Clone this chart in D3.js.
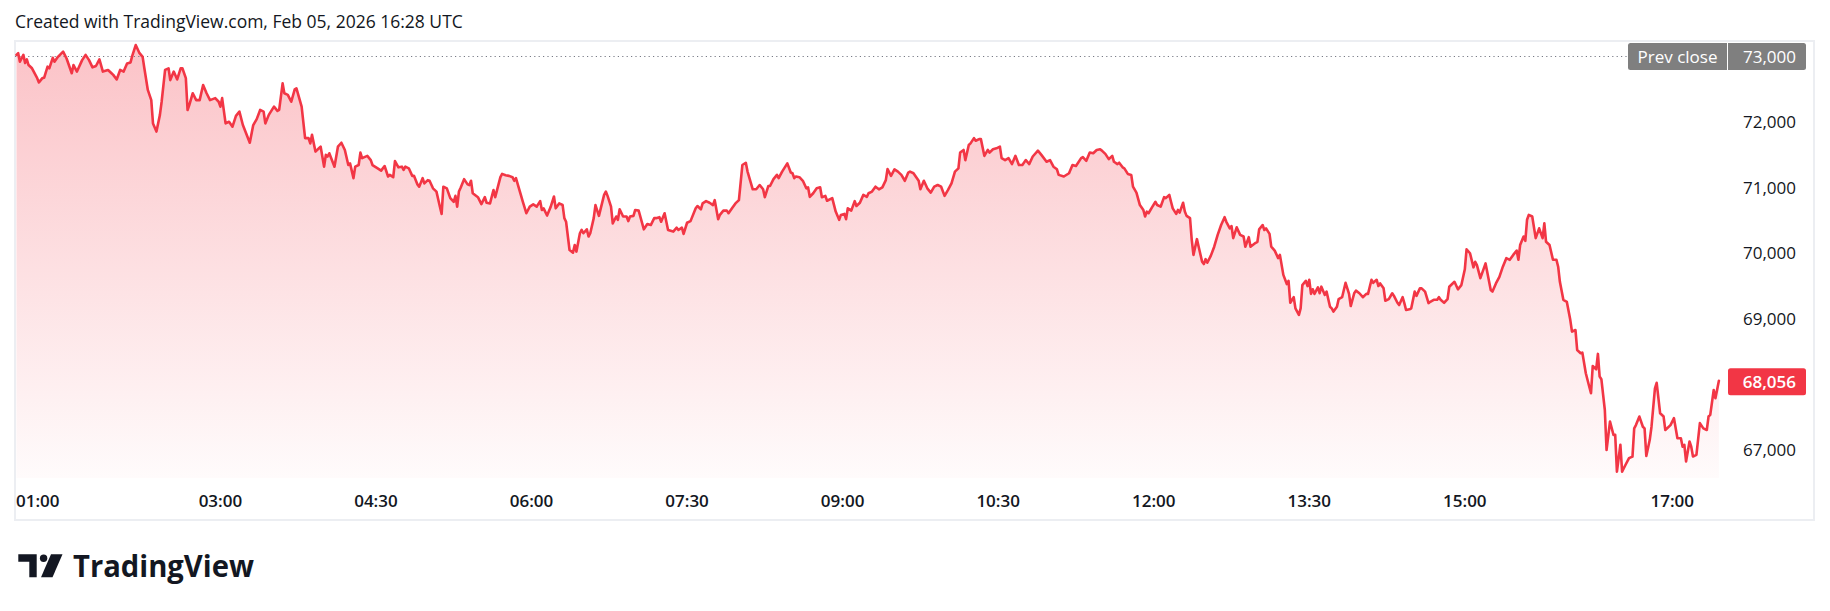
<!DOCTYPE html>
<html><head><meta charset="utf-8">
<script src="https://cdn.jsdelivr.net/npm/d3@7"></script>
<style>
html,body{margin:0;padding:0;background:#fff;}
svg{display:block;}
text{font-family:"Open Sans",sans-serif;}
</style></head><body>
<svg id="c" width="1830" height="611"></svg>
<script>
// minutes since 00:00 (chart time zone), Feb 05 2026
const minuteOfDay = [
62,63,64,66,67,68,69,71,74,75,77,78,80,81,83,84,86,89,91,94,
95,97,100,102,104,106,108,110,112,115,117,118,120,122,124,126,128,129,131,133,
135,136,138,140,141,143,145,146,148,150,151,153,155,157,158,160,161,162,164,166,
168,170,172,174,177,179,180,181,183,185,187,189,191,193,197,199,201,203,205,206,
208,211,213,214,216,217,219,221,223,224,227,229,231,232,233,235,237,238,240,241,
242,243,246,248,250,252,254,255,257,258,260,261,262,265,267,268,271,273,275,277,
278,280,281,283,285,286,287,289,291,292,294,295,297,298,300,301,303,305,307,308,
309,311,313,315,316,317,318,319,321,323,324,325,326,329,331,333,334,336,338,339,
342,343,345,347,349,350,351,354,355,357,359,361,363,365,366,367,369,371,373,374,
376,378,379,380,382,384,385,386,388,389,390,392,393,394,396,397,399,402,403,404,
406,407,409,410,411,413,415,416,417,419,420,422,425,427,429,431,432,434,435,437,
439,442,444,445,447,448,450,452,455,456,458,459,461,463,465,466,468,469,471,473,
474,476,478,480,482,484,485,488,490,492,494,495,497,498,500,502,503,505,508,510,
511,512,513,515,517,519,520,521,523,525,527,528,530,531,534,536,538,539,541,542,
543,545,547,548,550,552,554,555,557,559,561,563,565,566,568,570,572,574,576,578,
579,581,584,585,587,589,591,593,595,597,599,601,603,605,607,608,610,611,613,614,
616,617,619,620,622,624,625,627,629,631,632,634,636,638,640,642,644,646,648,650,
653,655,658,660,662,664,665,668,671,673,675,678,679,681,683,685,687,689,690,692,
694,696,697,699,700,702,703,705,707,708,710,712,714,715,716,717,719,721,722,724,
726,727,729,730,731,733,734,735,737,738,739,741,742,743,745,746,748,749,750,751,
753,755,757,759,761,762,764,765,766,768,770,772,773,775,776,779,780,781,783,784,
785,787,788,790,792,793,795,797,798,799,801,802,804,805,806,808,809,810,811,812,
813,815,816,817,819,820,822,823,824,826,827,829,831,833,834,836,837,839,841,843,
844,846,847,849,850,851,853,854,856,858,859,861,862,864,865,866,868,869,871,872,
874,875,877,879,880,882,884,885,886,888,890,891,894,896,898,900,901,903,905,906,
907,909,912,915,916,918,920,922,924,926,928,930,931,932,934,935,936,937,939,941,
943,945,946,947,949,951,953,954,955,957,959,961,962,964,965,967,968,970,972,973,
974,976,977,978,979,981,982,984,986,987,988,990,991,993,995,997,998,999,1001,1003,
1004,1005,1007,1008,1010,1011,1013,1015,1016,1019,1021,1023,1025,1026,1027,1028,1030,1031,1032,1034,
1036,1038,1040,1041,1042,1044,1045,1047
];
const price = [
73025,73050,72920,73025,72900,72955,72870,72820,72670,72605,72670,72675,72845,72820,72980,72920,72995,73075,72970,72745,
72870,72770,72945,73025,72945,72835,72855,72955,72770,72795,72745,72720,72650,72795,72770,72895,72910,73010,73175,73060,
72995,72820,72490,72335,71980,71855,72110,72310,72795,72820,72640,72770,72650,72820,72820,72670,72185,72260,72440,72335,
72335,72565,72440,72335,72365,72310,72235,72365,71980,72005,71930,72095,72160,71955,71685,71955,72045,72185,72160,71980,
72110,72235,72170,72185,72590,72440,72415,72310,72500,72515,72235,71755,71755,71675,71805,71550,71600,71625,71320,71500,
71475,71525,71320,71625,71685,71575,71345,71370,71145,71320,71345,71535,71450,71485,71420,71345,71295,71260,71330,71170,
71195,71160,71405,71310,71320,71270,71320,71295,71180,71180,71050,71015,71145,71065,71115,71105,70990,70940,70710,70600,
71015,70990,70840,70785,70875,70710,70940,71000,71130,71050,71040,71105,70915,70855,70750,70855,70770,70760,70965,70855,
71160,71210,71190,71180,71160,71105,71145,70875,70785,70610,70710,70745,70710,70795,70660,70685,70575,70700,70865,70685,
70760,70735,70535,70480,70050,70010,70125,70025,70305,70355,70305,70365,70255,70305,70535,70735,70570,70890,70940,70875,
70710,70455,70560,70510,70670,70560,70560,70490,70560,70570,70660,70650,70365,70445,70430,70535,70535,70550,70480,70610,
70355,70330,70390,70355,70390,70295,70465,70490,70685,70720,70670,70760,70795,70770,70735,70810,70520,70585,70650,70650,
70610,70685,70760,70810,71345,71380,71245,70975,70975,71040,70975,70855,71025,71025,71130,71195,71145,71245,71370,71230,
71220,71145,71170,71160,71105,70990,71005,70860,70915,70990,71005,70855,70875,70800,70840,70635,70510,70585,70600,70520,
70685,70650,70795,70720,70770,70890,70860,70915,70940,71015,70975,71005,71115,71285,71180,71280,71245,71195,71105,71230,
71245,71220,71105,70975,71105,70990,70925,71015,71040,71015,70875,70965,71065,71245,71295,71535,71575,71420,71650,71675,
71755,71715,71740,71740,71485,71575,71535,71585,71600,71625,71450,71420,71450,71360,71485,71345,71345,71420,71360,71475,
71565,71500,71395,71420,71320,71280,71195,71170,71220,71345,71330,71450,71465,71410,71535,71525,71575,71585,71565,71515,
71435,71485,71395,71360,71380,71310,71295,71210,71195,71015,70925,70735,70660,70560,70635,70610,70700,70785,70735,70710,
70855,70840,70890,70785,70685,70600,70660,70620,70770,70635,70570,70535,70205,69975,70215,70100,69870,69835,69910,69855,
69960,70100,70280,70430,70550,70480,70380,70415,70230,70395,70280,70255,70100,70245,70100,70160,70175,70365,70430,70355,
70380,70295,70100,70040,69925,69975,69670,69530,69580,69245,69330,69160,69060,69160,69515,69580,69500,69595,69380,69450,
69380,69480,69390,69490,69365,69415,69185,69160,69110,69185,69300,69330,69550,69380,69195,69390,69430,69390,69330,69380,
69380,69595,69550,69595,69500,69540,69465,69275,69300,69390,69350,69245,69210,69330,69240,69135,69145,69160,69415,69350,
69465,69465,69415,69240,69260,69290,69290,69330,69290,69245,69300,69490,69565,69450,69515,69755,70060,70000,69785,69870,
69820,69620,69845,69440,69415,69540,69640,69795,69925,69900,69975,70040,69900,70125,70255,70190,70510,70585,70560,70230,
70380,70230,70455,70175,70125,69900,69900,69795,69565,69290,69260,68985,68805,68830,68525,68475,68485,68170,67965,67865,
68280,68230,68465,68120,68080,67610,67000,67435,67230,67230,66670,67080,66670,66775,66875,66900,67330,67380,67510,67355,
67330,66910,67155,67355,67940,68025,67560,67510,67305,67380,67485,67180,67180,67050,67080,66825,67130,67050,66900,66925,
67410,67330,67305,67510,67535,67915,67790,68056
];
const timeTickLabels = ["01:00","03:00","04:30","06:00","07:30","09:00","10:30","12:00","13:30","15:00","17:00"];
const priceTicks = [67000,68000,69000,70000,71000,72000,73000];
const prevClose = 73000;
const prevCloseLabel = "Prev close";
const lastPrice = 68056;
const titleText = "Created with TradingView.com, Feb 05, 2026 16:28 UTC";
const brandText = "TradingView";

const RED = "#F23645";
const svg = d3.select("#c");
const frame = {x0: 15, y0: 41, x1: 1814, y1: 520};
const paneBottom = 478;

const x = d3.scaleLinear().domain([60, 1047]).range([13, 1718.9]);
const y = d3.scaleLinear().domain([67000, 73000]).range([450, 56.5]);
const fmt = d3.format(",");
const toMin = s => { const [h, m] = s.split(":").map(Number); return h * 60 + m; };

const data = minuteOfDay.map((m, i) => ({m, p: price[i]}));

// title
svg.append("text").attr("x", 15).attr("y", 28).attr("font-size", 17.5)
  .attr("fill", "#131722").text(titleText);

// frame
svg.append("rect").attr("x", frame.x0).attr("y", frame.y0)
  .attr("width", frame.x1 - frame.x0).attr("height", frame.y1 - frame.y0)
  .attr("fill", "#fff").attr("stroke", "#eceef2").attr("stroke-width", 2);

// gradient
const defs = svg.append("defs");
const g = defs.append("linearGradient").attr("id", "ag")
  .attr("gradientUnits", "userSpaceOnUse")
  .attr("x1", 0).attr("x2", 0).attr("y1", y(d3.max(price))).attr("y2", paneBottom);
g.append("stop").attr("offset", 0).attr("stop-color", RED).attr("stop-opacity", 0.3);
g.append("stop").attr("offset", 1).attr("stop-color", RED).attr("stop-opacity", 0.02);

// area
svg.append("path").datum(data)
  .attr("d", d3.area().x(d => x(d.m)).y0(paneBottom).y1(d => y(d.p)))
  .attr("fill", "url(#ag)");

// prev close dotted line
svg.append("line").attr("x1", 15).attr("x2", 1628)
  .attr("y1", y(prevClose)).attr("y2", y(prevClose))
  .attr("stroke", "#787b86").attr("stroke-width", 1.2).attr("stroke-dasharray", "1.2,3.2");

// line
svg.append("path").datum(data)
  .attr("d", d3.line().x(d => x(d.m)).y(d => y(d.p)))
  .attr("fill", "none").attr("stroke", RED).attr("stroke-width", 2.6)
  .attr("stroke-linejoin", "round").attr("stroke-linecap", "round");

// price axis labels (hide those under the labels)
const labelX = 1796;
priceTicks.filter(v => Math.abs(y(v) - y(prevClose)) > 20 && Math.abs(y(v) - y(lastPrice)) > 20)
  .forEach(v => {
    svg.append("text").attr("x", labelX).attr("y", y(v)).attr("dy", "0.36em")
      .attr("text-anchor", "end").attr("font-size", 17).attr("fill", "#131722").text(fmt(v));
  });

// prev close label
const pcY = y(prevClose);
svg.append("rect").attr("x", 1628).attr("y", pcY - 13.5).attr("width", 178).attr("height", 27)
  .attr("rx", 2.5).attr("fill", "#7f7f7f");
svg.append("line").attr("x1", 1727.5).attr("x2", 1727.5).attr("y1", pcY - 13.5).attr("y2", pcY + 13.5)
  .attr("stroke", "#fff").attr("stroke-width", 1);
svg.append("text").attr("x", 1677.5).attr("y", pcY).attr("dy", "0.36em").attr("text-anchor", "middle")
  .attr("font-size", 17).attr("font-weight", 500).attr("fill", "#fff").text(prevCloseLabel);
svg.append("text").attr("x", labelX).attr("y", pcY).attr("dy", "0.36em").attr("text-anchor", "end")
  .attr("font-size", 17).attr("font-weight", 500).attr("fill", "#fff").text(fmt(prevClose));

// last price label
const lpY = y(lastPrice);
svg.append("rect").attr("x", 1728).attr("y", lpY - 12.5).attr("width", 78).attr("height", 27)
  .attr("rx", 2.5).attr("fill", RED);
svg.append("text").attr("x", labelX).attr("y", lpY + 1).attr("dy", "0.36em").attr("text-anchor", "end")
  .attr("font-size", 17).attr("font-weight", 600).attr("fill", "#fff").text(fmt(lastPrice));

// time axis labels
timeTickLabels.forEach(s => {
  const t = svg.append("text").attr("y", 507).attr("font-size", 17).attr("font-weight", 600)
    .attr("fill", "#131722").text(s);
  const w = t.node().getComputedTextLength();
  const cx = Math.max(x(toMin(s)), frame.x0 + 1 + w / 2);
  t.attr("x", cx).attr("text-anchor", "middle");
});

// brand logo
const logo = svg.append("g").attr("fill", "#131722");
logo.append("path").attr("d", "M18.3,554.3 H36.7 V577.3 H29.3 V561.7 H18.3 Z");
logo.append("circle").attr("cx", 43.6).attr("cy", 558.2).attr("r", 3.7);
logo.append("path").attr("d", "M51,554.3 H62.5 L52.5,577.3 H41 Z");
logo.append("text").attr("x", 73).attr("y", 577).attr("font-size", 31).attr("font-weight", 700)
  .attr("font-family", "Inter, 'Open Sans', sans-serif")
  .attr("textLength", 181).attr("lengthAdjust", "spacingAndGlyphs").text(brandText);
</script>
</body></html>
